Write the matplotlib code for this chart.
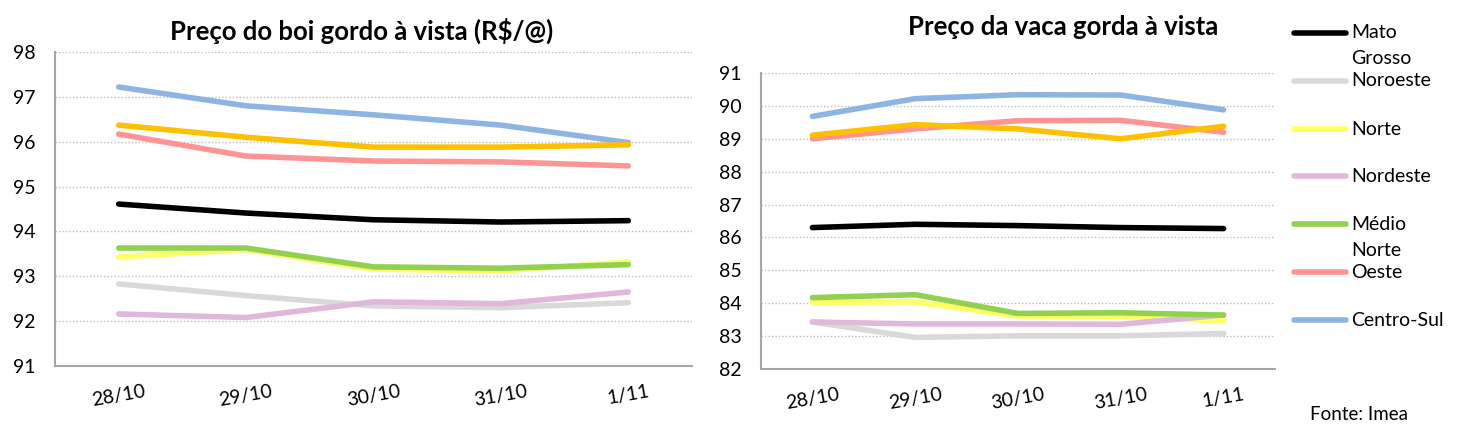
import matplotlib
matplotlib.use("Agg")
import matplotlib.pyplot as plt
from matplotlib.lines import Line2D
from matplotlib.transforms import ScaledTranslation

plt.rcParams['font.family'] = ['Lato', 'DejaVu Sans']

dates = ["28/10", "29/10", "30/10", "31/10", "1/11"]

# Boi gordo (R$/@)
boi_mato_grosso = [94.61, 94.41, 94.26, 94.21, 94.24]
boi_noroeste    = [92.83, 92.57, 92.34, 92.30, 92.41]
boi_norte       = [93.43, 93.60, 93.16, 93.12, 93.32]
boi_nordeste    = [92.16, 92.08, 92.43, 92.39, 92.65]
boi_medio_norte = [93.63, 93.63, 93.21, 93.18, 93.26]
boi_oeste       = [96.17, 95.68, 95.57, 95.55, 95.46]
boi_centro_sul  = [97.22, 96.80, 96.60, 96.37, 95.98]
boi_extra       = [96.37, 96.10, 95.88, 95.88, 95.93]

# Vaca gorda
vaca_mato_grosso = [86.30, 86.40, 86.36, 86.30, 86.27]
vaca_noroeste    = [83.43, 82.96, 83.01, 83.01, 83.08]
vaca_norte       = [84.03, 84.04, 83.61, 83.59, 83.46]
vaca_nordeste    = [83.43, 83.37, 83.37, 83.36, 83.64]
vaca_medio_norte = [84.17, 84.26, 83.69, 83.71, 83.64]
vaca_oeste       = [89.00, 89.30, 89.55, 89.56, 89.20]
vaca_centro_sul  = [89.68, 90.22, 90.34, 90.33, 89.88]
vaca_extra       = [89.11, 89.43, 89.30, 89.00, 89.38]

labels = ["Mato\nGrosso", "Noroeste", "Norte", "Nordeste", "Médio\nNorte", "Oeste", "Centro-Sul"]
colors = ["#000000", "#D9D9D9", "#FFFF66", "#E0B8DA", "#92D050", "#FF9494", "#8EB4E3"]
extra_color = "#FFC000"

boi = [boi_mato_grosso, boi_noroeste, boi_norte, boi_nordeste, boi_medio_norte, boi_oeste, boi_centro_sul]
vaca = [vaca_mato_grosso, vaca_noroeste, vaca_norte, vaca_nordeste, vaca_medio_norte, vaca_oeste, vaca_centro_sul]

W, H = 1459, 440
fig = plt.figure(figsize=(W/100, H/100), dpi=100)

def fx(px):
    return px / W

def fy(py):
    return 1 - py / H

ax1 = fig.add_axes([fx(55), fy(366), fx(692) - fx(55), fy(52) - fy(366)])
ax2 = fig.add_axes([fx(761), fy(369), fx(1275) - fx(761), fy(73) - fy(369)])

lw = 4.0

def style(ax, ylim, xshift):
    ax.set_ylim(*ylim)
    ax.set_xlim(-0.5, len(dates) - 0.5)
    ax.set_xticks(range(len(dates)))
    ax.set_xticklabels(dates, rotation=10, fontsize=14)
    off = ScaledTranslation(xshift / 100, 4 / 100, fig.dpi_scale_trans)
    for t in ax.get_xticklabels():
        t.set_transform(t.get_transform() + off)
    ax.set_yticks(range(ylim[0], ylim[1] + 1))
    ax.tick_params(axis='y', labelsize=14, length=0, pad=14)
    ax.tick_params(axis='x', length=0, pad=12)
    for s in ['top', 'right']:
        ax.spines[s].set_visible(False)
    for s in ['left', 'bottom']:
        ax.spines[s].set_color('#A6A6A6')
        ax.spines[s].set_linewidth(1.5)
    ax.yaxis.grid(True, linestyle=(0, (1, 1.5)), color='#BFBFBF', linewidth=1.0)
    ax.set_axisbelow(True)

x = list(range(len(dates)))
for vals, c in zip(boi, colors):
    ax1.plot(x, vals, color=c, lw=lw, solid_capstyle='round', solid_joinstyle='round')
ax1.plot(x, boi_extra, color=extra_color, lw=lw, solid_capstyle='round', solid_joinstyle='round')

for vals, c in zip(vaca, colors):
    ax2.plot(x, vals, color=c, lw=lw, solid_capstyle='round', solid_joinstyle='round')
ax2.plot(x, vaca_extra, color=extra_color, lw=lw, solid_capstyle='round', solid_joinstyle='round')

style(ax1, (91, 98), -14)
style(ax2, (82, 91), -22)

fig.text(fx(362), fy(31), "Preço do boi gordo à vista (R$/@)", fontsize=18.5,
         fontweight='bold', ha='center', va='center')
fig.text(fx(1063), fy(27), "Preço da vaca gorda à vista", fontsize=18.5,
         fontweight='bold', ha='center', va='center')

# Legend drawn manually
leg_y = [33, 81, 129, 176, 224, 272, 320]
for lab, c, yy in zip(labels, colors, leg_y):
    fig.add_artist(Line2D([fx(1294), fx(1346)], [fy(yy), fy(yy)], color=c, lw=lw,
                          solid_capstyle='round', transform=fig.transFigure))
    for i, part in enumerate(lab.split("\n")):
        fig.text(fx(1351), fy(yy + 26 * i), part, fontsize=14, va='center', ha='left')

fig.text(fx(1310), fy(414), "Fonte: Imea", fontsize=13.5, va='center', ha='left')

fig.savefig("out.png", dpi=100)
